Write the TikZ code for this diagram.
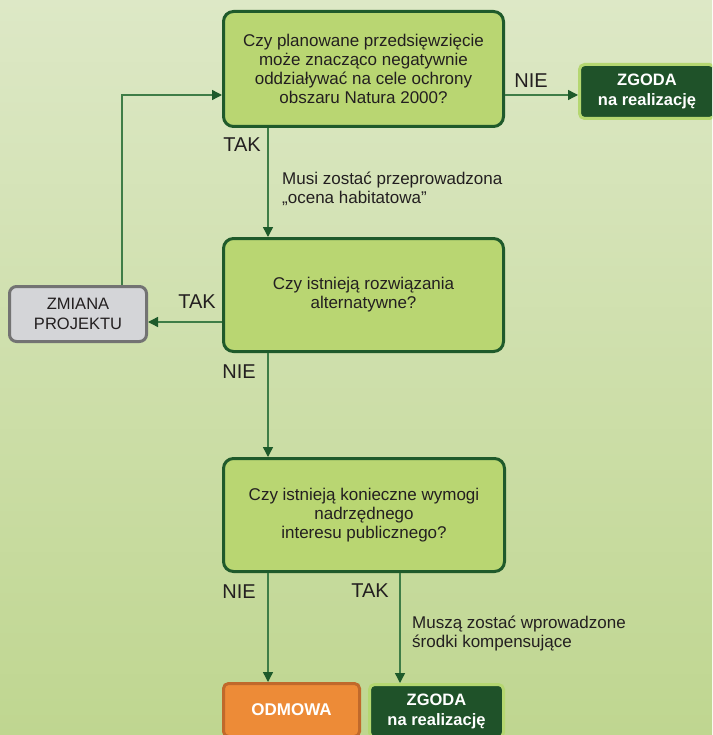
\documentclass[tikz,border=0pt]{standalone}
\usepackage{fontspec}
\setmainfont{Liberation Sans}
\usetikzlibrary{arrows.meta}
\definecolor{bgtop}{HTML}{DDE8C6}
\definecolor{bgbot}{HTML}{BFD690}
\definecolor{dkgreen}{HTML}{1F5A2B}
\definecolor{boxfill}{HTML}{B9D672}
\definecolor{txt}{HTML}{231F20}
\definecolor{zgfill}{HTML}{1F5229}
\definecolor{zgdraw}{HTML}{B5D771}
\definecolor{arrcol}{HTML}{3F7D47}
\definecolor{headcol}{HTML}{1E5A2B}
\definecolor{grayfill}{HTML}{D4D5D8}
\definecolor{graydraw}{HTML}{737373}
\definecolor{orfill}{HTML}{ED8B37}
\definecolor{ordraw}{HTML}{C0692B}
\begin{document}
\begin{tikzpicture}[x=1pt,y=-1pt,
  qbox/.style={draw=dkgreen, line width=3pt, fill=boxfill, rounded corners=10pt,
    align=center, text=txt, font=\fontsize{17}{19}\selectfont, inner sep=0pt},
  zgbox/.style={draw=zgdraw, line width=3pt, fill=zgfill, rounded corners=5pt,
    align=center, text=white, font=\fontsize{16.5}{20}\selectfont\bfseries, inner sep=0pt},
  zmbox/.style={draw=graydraw, line width=3pt, fill=grayfill, rounded corners=7pt,
    align=center, text=txt, font=\fontsize{16.5}{20}\selectfont, inner sep=0pt},
  odbox/.style={draw=ordraw, line width=3pt, fill=orfill, rounded corners=5pt,
    align=center, text=white, font=\fontsize{17}{20}\selectfont\bfseries, inner sep=0pt},
  lbl/.style={text=txt, font=\fontsize{20}{22}\selectfont, inner sep=0pt},
  note/.style={text=txt, font=\fontsize{17}{19}\selectfont, align=left, inner sep=0pt, anchor=west},
  arr/.style={draw=arrcol, line width=1.4pt, -{Triangle[length=10pt,width=10pt,color=headcol]}}
]
\useasboundingbox (0,0) rectangle (712,735);
\shade[top color=bgtop,bottom color=bgbot] (0,0) rectangle (712,735);
\clip (0,0) rectangle (712,735);

\node[qbox, minimum width=280pt, minimum height=115pt] (q1) at (363.5,69)
  {Czy planowane przedsięwzięcie\\może znacząco negatywnie\\oddziaływać na cele ochrony\\obszaru Natura 2000?};
\node[qbox, minimum width=280pt, minimum height=113pt] (q2) at (363.5,295)
  {Czy istnieją rozwiązania\\alternatywne?};
\node[qbox, minimum width=281pt, minimum height=113pt] (q3) at (364,515)
  {Czy istnieją konieczne wymogi\\nadrzędnego\\interesu publicznego?};
\node[zgbox, minimum width=135pt, minimum height=54pt] (zg1) at (647,91.5)
  {ZGODA\\na realizację};
\node[zmbox, minimum width=137pt, minimum height=55pt] (zm) at (78,314)
  {ZMIANA\\PROJEKTU};
\node[odbox, minimum width=136pt, minimum height=53pt] (odm) at (291.5,710)
  {ODMOWA};
\node[zgbox, minimum width=134pt, minimum height=53pt] (zg2) at (436.5,711)
  {ZGODA\\na realizację};

\coordinate (xa) at (268,0);
\coordinate (xb) at (122,0);
\coordinate (xc) at (400,0);
\coordinate (ya) at (0,95);
\coordinate (yb) at (0,322);

\draw[arr] (q1.south -| xa) -- (q2.north -| xa);
\draw[arr] (q2.south -| xa) -- (q3.north -| xa);
\draw[arr] (q3.south -| xa) -- (odm.north -| xa);
\draw[arr] (q3.south -| xc) -- (zg2.north -| xc);
\draw[arr] (q1.east |- ya) -- (zg1.west |- ya);
\draw[arr] (q2.west |- yb) -- (zm.east |- yb);
\draw[arr] (zm.north -| xb) |- (q1.west |- ya);

\node[lbl] (l1) at (531,81) {NIE};
\node[lbl] (l2) at (242,145) {TAK};
\node[lbl] (l3) at (197,302) {TAK};
\node[lbl] (l4) at (239,372) {NIE};
\node[lbl] (l5) at (239,592) {NIE};
\node[lbl] (l6) at (370,591) {TAK};

\node[note] (n1) at (282,189) {Musi zostać przeprowadzona\\„ocena habitatowa”};
\node[note] (n2) at (412,634) {Muszą zostać wprowadzone\\środki kompensujące};
\end{tikzpicture}
\end{document}
